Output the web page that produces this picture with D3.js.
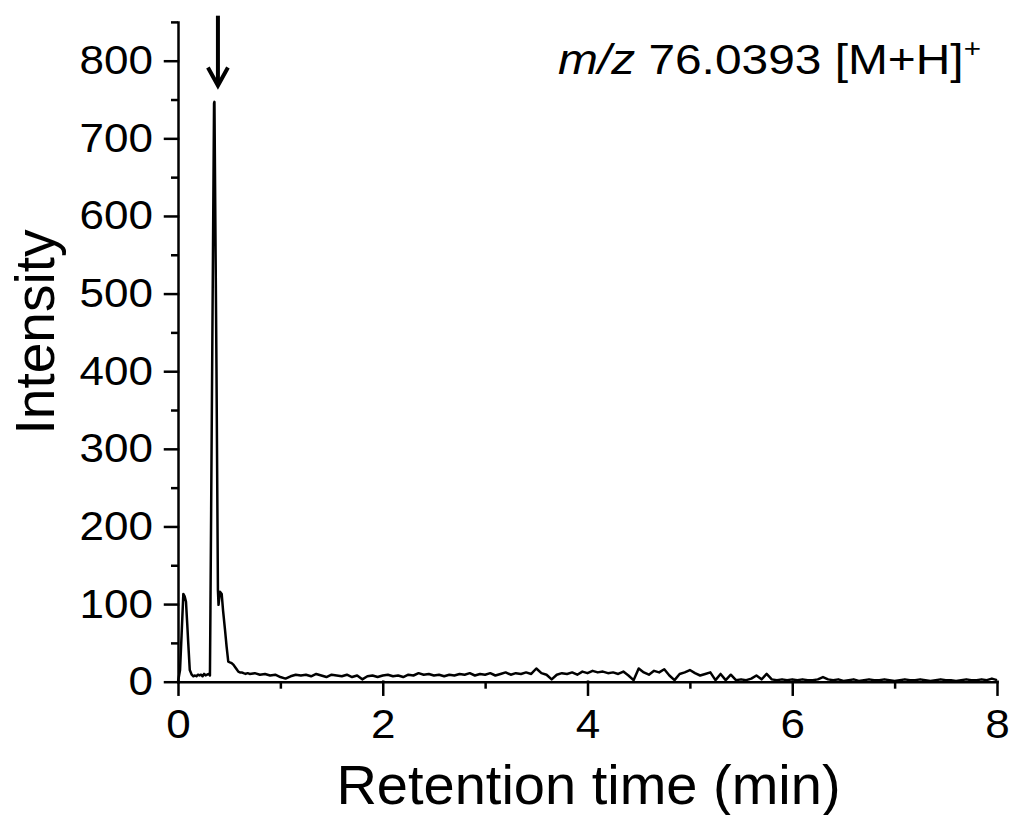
<!DOCTYPE html>
<html>
<head>
<meta charset="utf-8">
<script src="https://cdn.jsdelivr.net/npm/d3@7"></script>
<style>
  body { margin: 0; background: #fff; }
  text { font-family: "Liberation Sans", Arial, sans-serif; fill: #000; white-space: pre; }
</style>
</head>
<body>
<div class="chrom-plot"></div>
<script>
// retention time (min) and intensity
const time = [
  0, 0.003, 0.02, 0.035, 0.052, 0.065, 0.078, 0.09, 0.1, 0.115,
  0.134, 0.15, 0.166, 0.18, 0.195, 0.21, 0.225, 0.24, 0.255, 0.27,
  0.285, 0.3, 0.312, 0.317, 0.352, 0.356, 0.376, 0.39, 0.396, 0.41,
  0.427, 0.44, 0.459, 0.475, 0.491, 0.507, 0.524, 0.54, 0.557, 0.573,
  0.589, 0.605, 0.622, 0.64, 0.66, 0.68,
  0.70, 0.75, 0.80, 0.85, 0.90, 0.95, 1.00, 1.05, 1.10, 1.15,
  1.20, 1.25, 1.30, 1.35, 1.40, 1.45, 1.50, 1.55, 1.60, 1.65,
  1.70, 1.75, 1.80, 1.85, 1.90, 1.95, 2.00, 2.05, 2.10, 2.15,
  2.20, 2.25, 2.30, 2.35, 2.40, 2.45, 2.50, 2.55, 2.60, 2.65,
  2.70, 2.75, 2.80, 2.85, 2.90, 2.95, 3.00, 3.05, 3.10, 3.15,
  3.20, 3.25, 3.30, 3.35, 3.40, 3.45, 3.50, 3.55, 3.60, 3.65,
  3.70, 3.75, 3.80, 3.85, 3.90, 3.95, 4.00, 4.05, 4.10, 4.15,
  4.20, 4.25, 4.30, 4.35, 4.40, 4.45, 4.50, 4.55, 4.60, 4.65,
  4.70, 4.75, 4.80, 4.85, 4.90, 4.95, 5.00, 5.05, 5.10, 5.15,
  5.20, 5.25, 5.30, 5.35, 5.40, 5.45, 5.50, 5.55, 5.60, 5.65,
  5.70, 5.75, 5.80, 5.85, 5.90, 5.95, 6.00, 6.05, 6.10, 6.15,
  6.20, 6.25, 6.30, 6.35, 6.40, 6.45, 6.50, 6.55, 6.60, 6.65,
  6.70, 6.75, 6.80, 6.85, 6.90, 6.95, 7.00, 7.05, 7.10, 7.15,
  7.20, 7.25, 7.30, 7.35, 7.40, 7.45, 7.50, 7.55, 7.60, 7.65,
  7.70, 7.75, 7.80, 7.85, 7.90, 7.95, 8.00
];
const intensity = [
  0, 2, 15, 60, 113, 110, 103, 75, 50, 15,
  9, 7, 8, 7, 9, 8, 9, 7, 10, 8,
  9, 10, 8, 95, 745, 747, 400, 118, 99, 116,
  113, 92, 67, 45, 26, 25, 24, 22, 19, 16,
  13, 12, 12, 11, 10, 11,
  10, 11, 9, 10, 8, 9, 6, 4, 7, 9,
  8, 9, 7, 10, 8, 6, 9, 8, 7, 9,
  6, 8, 3, 7, 8, 6, 8, 9, 7, 8,
  6, 9, 8, 11, 9, 10, 8, 9, 7, 9,
  8, 10, 9, 11, 8, 10, 9, 11, 8, 10,
  12, 9, 11, 10, 12, 10, 17, 11, 9, 3,
  9, 11, 10, 12, 9, 13, 11, 14, 12, 13,
  11, 12, 10, 13, 8, 2, 17, 12, 9, 14,
  12, 16, 8, 2, 10, 12, 15, 11, 8, 10,
  12, 2, 10, 2, 9, 2, 3, 2, 4, 8,
  3, 10, 3, 2, 3, 2, 3, 2, 3, 2,
  2, 3, 6, 3, 2, 3, 1, 2, 3, 1,
  2, 3, 2, 2, 3, 2, 1, 2, 3, 2,
  2, 3, 2, 1, 2, 3, 2, 2, 1, 2,
  3, 2, 2, 3, 2, 4, 2
];

const xTicks = [0, 2, 4, 6, 8];
const xMinor = [1, 3, 5, 7];
const yTicks = [0, 100, 200, 300, 400, 500, 600, 700, 800];
const yMinor = [50, 150, 250, 350, 450, 550, 650, 750, 850];

// arrow marking the analyte peak
const arrowTime = 0.39;
const arrowTop = 858;
const arrowTip = 768;

makePlot();

function makePlot() {

    const outerWidth = 1014;
    const outerHeight = 815;

    const margin = {top: 21.9, left: 178, bottom: 133.3, right: 17};
    const width = outerWidth - margin.left - margin.right;
    const height = outerHeight - margin.top - margin.bottom;

    const svg = d3.select('.chrom-plot')
                .append('svg')
                .attr('width', outerWidth)
                .attr('height', outerHeight)
                .append('g')
                .attr('transform', `translate(${margin.left}, ${margin.top})`);

    const xScale = d3.scaleLinear()
                .domain([0, 8])
                .range([0, width]);
    const yScale = d3.scaleLinear()
                .domain([0, 850])
                .range([height, 0]);

    const font = '"Liberation Sans", Arial, sans-serif';

    // minor ticks first, majors on top
    svg.append('g')
        .attr('transform', `translate(0, ${height})`)
        .call(d3.axisBottom(xScale).tickValues(xMinor).tickSize(7).tickSizeOuter(0).tickFormat(''))
        .call(g => g.select('.domain').remove())
        .call(g => g.selectAll('line').attr('stroke-width', 2.5));

    svg.append('g')
        .call(d3.axisLeft(yScale).tickValues(yMinor).tickSize(7).tickSizeOuter(0).tickFormat(''))
        .call(g => g.select('.domain').remove())
        .call(g => g.selectAll('line').attr('stroke-width', 2.5));

    svg.append('g')
        .attr('transform', `translate(0, ${height})`)
        .call(d3.axisBottom(xScale).tickValues(xTicks).tickSize(13).tickSizeOuter(0))
        .attr('font-size', 40)
        .attr('font-family', font)
        .call(g => g.selectAll('line, path').attr('stroke-width', 2.5).attr('stroke-linecap', 'square'))
        .call(g => g.selectAll('.tick text')
                    .attr('y', 0)
                    .attr('dy', null)
                    .attr('transform', 'translate(0, 56) scale(1.1, 1)'));

    svg.append('g')
        .call(d3.axisLeft(yScale).tickValues(yTicks).tickSize(13).tickSizeOuter(0))
        .attr('font-size', 40)
        .attr('font-family', font)
        .call(g => g.selectAll('line, path').attr('stroke-width', 2.5).attr('stroke-linecap', 'square'))
        .call(g => g.selectAll('.tick text')
                    .attr('x', 0)
                    .attr('dy', null)
                    .attr('transform', 'translate(-25, 13) scale(1.1, 1)'));

    // axis titles
    svg.append('text')
        .attr('transform', `translate(${54 - margin.left}, ${332 - margin.top}) rotate(-90)`)
        .attr('text-anchor', 'middle')
        .attr('font-size', 55)
        .text('Intensity');

    svg.append('text')
        .attr('transform', `translate(${width / 2 + 1}, ${804 - margin.top})`)
        .attr('text-anchor', 'middle')
        .attr('font-size', 56)
        .text('Retention time (min)');

    // ion label
    const label = svg.append('text')
        .attr('transform', `translate(${558 - margin.left}, ${74 - margin.top}) scale(1.14, 1)`)
        .attr('font-size', 42);
    label.append('tspan').attr('font-style', 'italic').text('m/z');
    label.append('tspan').text(' 76.0393 [M+H]');
    label.append('tspan').attr('font-size', 26).attr('dy', -17).text('+');

    // chromatogram trace
    const line = d3.line()
                    .x((d, i) => xScale(time[i]))
                    .y(d => yScale(d));

    svg.append('path')
        .datum(intensity)
        .attr('fill', 'none')
        .attr('stroke', 'black')
        .attr('stroke-width', 2.5)
        .attr('stroke-linejoin', 'round')
        .attr('d', line);

    // arrow
    const ax = xScale(arrowTime);
    svg.append('line')
        .attr('x1', ax).attr('x2', ax)
        .attr('y1', yScale(arrowTop))
        .attr('y2', yScale(arrowTip) - 2)
        .attr('stroke', 'black')
        .attr('stroke-width', 4);
    svg.append('path')
        .attr('d', `M${ax - 10},${yScale(arrowTip) - 18}L${ax},${yScale(arrowTip)}L${ax + 10},${yScale(arrowTip) - 18}`)
        .attr('fill', 'none')
        .attr('stroke', 'black')
        .attr('stroke-width', 4);
}
</script>
</body>
</html>
